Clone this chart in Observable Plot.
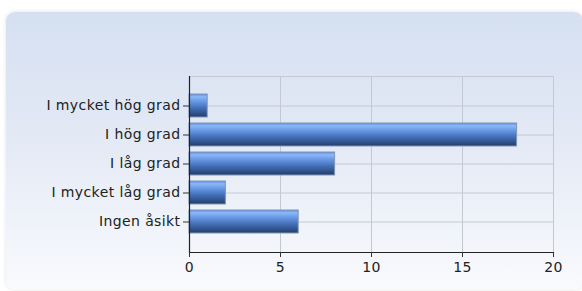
<!DOCTYPE html>
<html>
<head>
<meta charset="utf-8">
<script src="https://cdn.jsdelivr.net/npm/d3@7"></script>
<script src="https://cdn.jsdelivr.net/npm/@observablehq/plot@0.6"></script>
<style>
  html, body { margin: 0; padding: 0; background: #ffffff; }
  #wrap { position: relative; width: 582px; height: 291px; overflow: hidden; }
  #panel {
    position: absolute; left: 6px; top: 12px; width: 577px; height: 278px;
    border-radius: 9px;
    background: linear-gradient(to bottom, #d5e0f1 0%, #e3e9f5 45%, #f9fafd 100%);
    box-shadow: 0 0 4px rgba(0,0,0,0.12);
  }
  #chart { position: absolute; left: 0; top: 0; }
  #chart svg text { letter-spacing: 0.4px; }
</style>
</head>
<body>
<div id="wrap"><div id="panel"></div><div id="chart"></div></div>
<script>
const categories = ["I mycket hög grad", "I hög grad", "I låg grad", "I mycket låg grad", "Ingen åsikt"];
const values = [1, 18, 8, 2, 6];
const xTicks = [0, 5, 10, 15, 20];

const data = categories.map((c, i) => ({category: c, value: values[i]}));

const chart = Plot.plot({
  width: 582,
  height: 291,
  marginLeft: 189,
  marginRight: 29,
  marginTop: 76,
  marginBottom: 39,
  style: {background: "transparent", fontFamily: "DejaVu Sans, Verdana, sans-serif", fontSize: "14px", color: "#222"},
  x: {domain: [0, 20], ticks: xTicks, label: null},
  y: {domain: categories, paddingInner: 0.2, paddingOuter: 0.63, label: null},
  marks: [
    Plot.gridY({stroke: "#c3c9d3", strokeOpacity: 1}),
    Plot.gridX({ticks: xTicks, stroke: "#c3c9d3", strokeOpacity: 1}),
    Plot.frame({stroke: "#c3c9d3"}),
    Plot.barX(data, {x: "value", y: "category", fill: "url(#barGrad)", stroke: "#8196b6", strokeWidth: 1}),
    Plot.ruleX([0], {stroke: "#222", strokeWidth: 1.2}),
    Plot.frame({anchor: "bottom", stroke: "#222", strokeWidth: 1.2}),
    Plot.axisY({tickSize: 6, tickPadding: 3, stroke: "#333", fontSize: 14}),
    Plot.axisX({ticks: xTicks, tickSize: 5, tickPadding: 5, stroke: "#333", fontSize: 14})
  ]
});

const ns = "http://www.w3.org/2000/svg";
const defs = document.createElementNS(ns, "defs");
const grad = document.createElementNS(ns, "linearGradient");
grad.setAttribute("id", "barGrad");
grad.setAttribute("x1", "0"); grad.setAttribute("y1", "0");
grad.setAttribute("x2", "0"); grad.setAttribute("y2", "1");
[["0", "#5a8ee0"], ["0.12", "#8cb8f6"], ["0.3", "#6b9ce8"], ["0.6", "#4470b8"], ["0.85", "#2f5189"], ["1", "#213d6a"]].forEach(([o, c]) => {
  const s = document.createElementNS(ns, "stop");
  s.setAttribute("offset", o); s.setAttribute("stop-color", c);
  grad.appendChild(s);
});
defs.appendChild(grad);
chart.insertBefore(defs, chart.firstChild);

document.getElementById("chart").appendChild(chart);
</script>
</body>
</html>
